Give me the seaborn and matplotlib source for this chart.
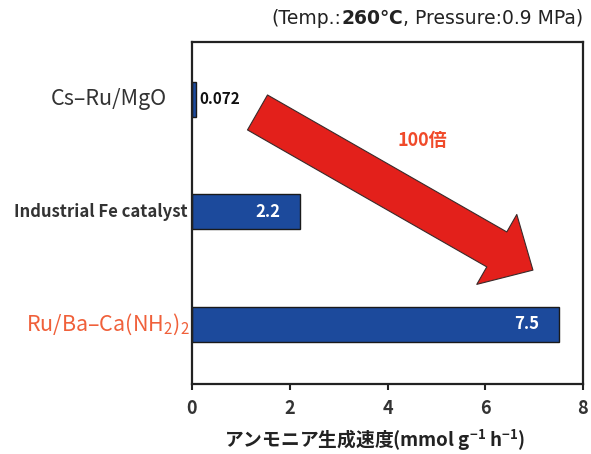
import matplotlib
matplotlib.use("Agg")
import matplotlib.pyplot as plt
import seaborn as sns
import pandas as pd

categories = ["Cs–Ru/MgO", "Industrial Fe catalyst", "Ru/Ba–Ca(NH$_\\mathregular{2}$)$_\\mathregular{2}$"]
values = [0.072, 2.2, 7.5]
value_labels = ["0.072", "2.2", "7.5"]
xticks = [0, 2, 4, 6, 8]

sns.set_theme(style="white")
plt.rcParams['font.family'] = ['Noto Sans CJK JP', 'DejaVu Sans']
plt.rcParams['mathtext.fontset'] = 'custom'
plt.rcParams['mathtext.rm'] = 'Noto Sans CJK JP'

fig = plt.figure(figsize=(5.91, 4.54), dpi=100)
ax = fig.add_axes([192/591, 1-384/454, (583-192)/591, (384-42)/454])

df = pd.DataFrame({"cat": categories, "val": values})
sns.barplot(data=df, x="val", y="cat", orient="h", color="#1c4a9c", saturation=1,
            width=0.31, edgecolor="#1a1a1a", linewidth=1.0, ax=ax)

ax.set_xlim(0, 8)
ax.set_ylim(2.53, -0.51)
ax.set_xticks(xticks)
ax.set_xticklabels([str(t) for t in xticks], fontsize=13, fontweight='bold', color='#333333')
ax.tick_params(axis='x', direction='out', length=4, width=1.5, color='#222222', pad=7, bottom=True)
ax.tick_params(axis='y', length=0, labelleft=False)
ax.set_xlabel("")
ax.set_ylabel("")
for s in ax.spines.values():
    s.set_visible(True)
    s.set_linewidth(1.6)
    s.set_color('#222222')

# category labels
ystyles = [dict(fontsize=15.5, color='#333333', weight='normal', off=-18),
           dict(fontsize=12, color='#333333', weight='bold', off=-3.5),
           dict(fontsize=15.5, color='#f0603a', weight='normal', off=-1.5)]
ytr = ax.get_yaxis_transform()
for i, (cat, st) in enumerate(zip(categories, ystyles)):
    ax.annotate(cat, xy=(0, i), xycoords=ytr, xytext=(st['off'], 0), textcoords='offset points',
                ha='right', va='center', fontsize=st['fontsize'], color=st['color'],
                fontweight=st['weight'], annotation_clip=False)

# value labels
ax.annotate(value_labels[0], xy=(values[0], 0), xytext=(3, 0), textcoords='offset points',
            ha='left', va='center', fontsize=11, fontweight='bold', color='#111111')
for i in (1, 2):
    ax.annotate(value_labels[i], xy=(values[i], i), xytext=(-14, 0), textcoords='offset points',
                ha='right', va='center', fontsize=12, fontweight='bold', color='white')

# big arrow
ax.annotate("", xy=(0.872, 0.333), xycoords='axes fraction',
            xytext=(0.1675, 0.794), textcoords='axes fraction',
            arrowprops=dict(arrowstyle="simple,head_length=30,head_width=58,tail_width=29",
                            mutation_scale=1, shrinkA=0, shrinkB=0,
                            facecolor='#e3201b', edgecolor='#3a2a2a', linewidth=0.8))
ax.text(0.588, 0.713, "100倍", transform=ax.transAxes, ha='center', va='center',
        fontsize=13, fontweight='bold', color='#f04a2a')

# title (right aligned chain)
tfam = ['DejaVu Sans', 'Noto Sans CJK JP']
t3 = fig.text(583/591, 1-18/454, ", Pressure:0.9 MPa)", ha='right', va='center',
              fontsize=13.5, color='#222222', family=tfam)
t2 = ax.annotate("260℃", xy=(0, 0.5), xycoords=t3, ha='right', va='center',
                 fontsize=13.5, fontweight='bold', color='#222222', family=tfam)
t1 = ax.annotate("(Temp.:", xy=(0, 0.5), xycoords=t2, ha='right', va='center',
                 fontsize=13.5, color='#222222', family=tfam)

fig.text(375/591, 1-440/454, "アンモニア生成速度(mmol g$^{\\mathregular{-1}}$ h$^{\\mathregular{-1}}$)",
         ha='center', va='center', fontsize=13.5, fontweight='bold', color='#222222')

fig.savefig("out.png", dpi=100)
